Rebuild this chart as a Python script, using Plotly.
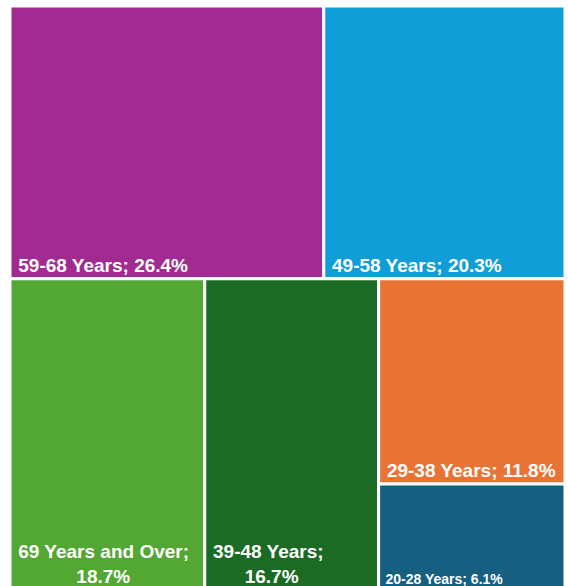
import plotly.graph_objects as go

NB = "\u00a0"

labels = ["59-68 Years", "49-58 Years", "69 Years and Over", "39-48 Years", "29-38 Years", "20-28 Years"]
values = [26.4, 20.3, 18.7, 16.7, 11.8, 6.1]
colors = ["#A12B90", "#119ED7", "#52A833", "#1B6B24", "#E97335", "#175F80"]
display = [NB + "59-68 Years; 26.4%",
           NB + "49-58 Years; 20.3%",
           NB + "69 Years and Over;<br>" + NB * 12 + "18.7%",
           NB + "39-48 Years;<br>" + NB * 7 + "16.7%",
           NB + "29-38 Years; 11.8%",
           NB + "20-28 Years; 6.1%"]
font_sizes = [19, 19, 19, 19, 19, 14]

root = "All"
ids = [root] + labels
parents = [""] + [root] * len(labels)
vals = [sum(values)] + values
cols = ["white"] + colors
texts = [""] + display
sizes = [1] + font_sizes

fig = go.Figure(go.Treemap(
    ids=ids,
    labels=ids,
    parents=parents,
    values=vals,
    branchvalues="total",
    text=texts,
    texttemplate="%{text}",
    textposition="bottom left",
    textfont=dict(family="Liberation Sans", color="white", size=sizes, weight="bold"),
    marker=dict(colors=cols, line=dict(color="white", width=3),
                pad=dict(t=0, l=0, r=0, b=0)),
    tiling=dict(packing="squarify", squarifyratio=1, pad=0),
    pathbar=dict(visible=False),
    sort=True,
    hoverinfo="skip",
))

fig.update_layout(
    width=568, height=590,
    margin=dict(l=10, r=3, t=6, b=0),
    paper_bgcolor="white",
    showlegend=False,
)

fig.write_html(
    "out.html",
    config={"displayModeBar": False},
    post_script="document.body.style.margin='0';document.body.style.overflow='hidden';"
                "document.documentElement.style.overflow='hidden';",
)
